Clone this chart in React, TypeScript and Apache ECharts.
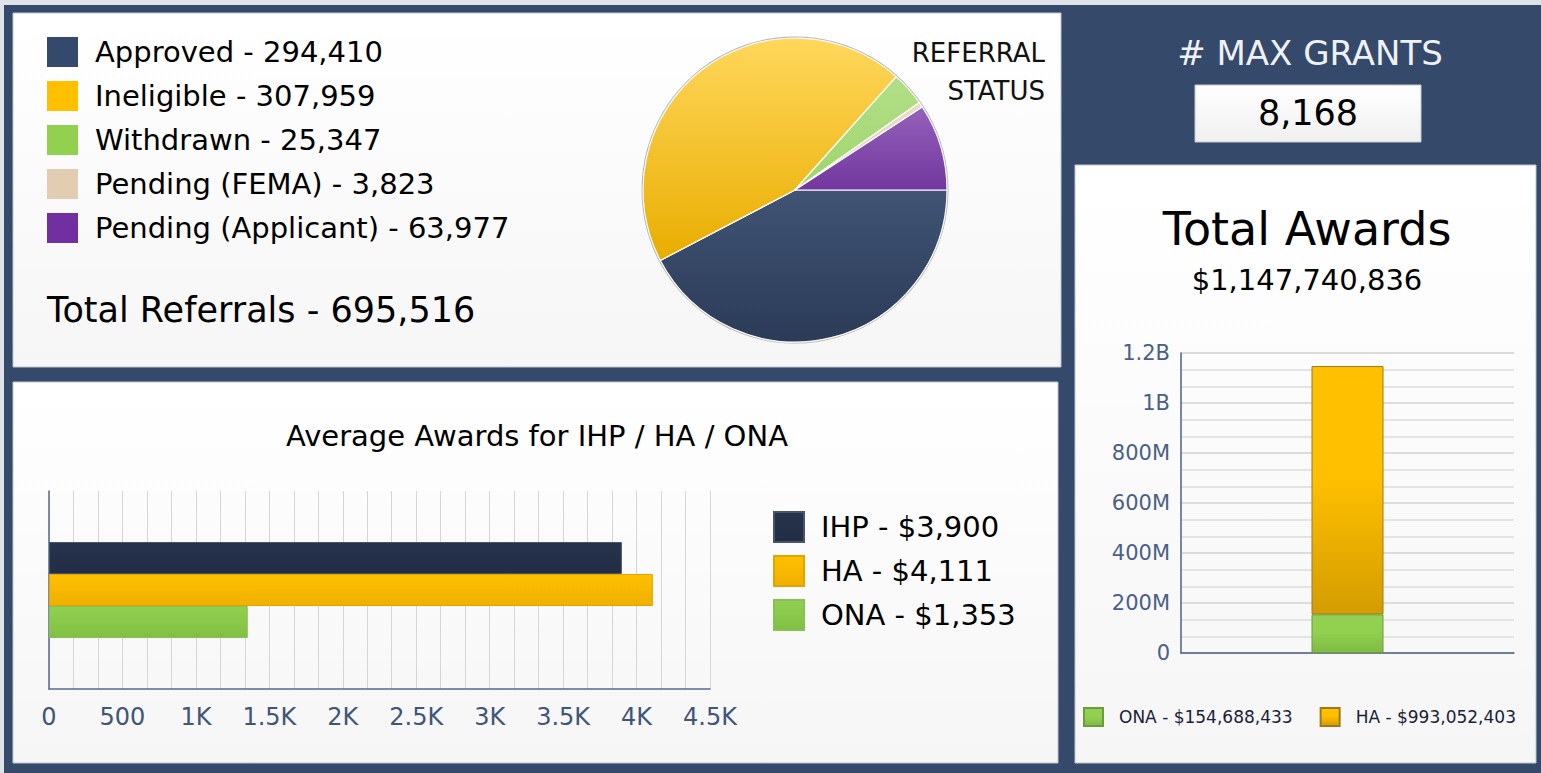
import React, { useEffect, useRef } from "react";
import * as echarts from "echarts";

// ---- Data ----
const statusNames = ["Approved", "Ineligible", "Withdrawn", "Pending (FEMA)", "Pending (Applicant)"];
const statusValues = [294410, 307959, 25347, 3823, 63977];
const statusColors = ["#34496b", "#ffc000", "#92d050", "#e3cdb2", "#7030a0"];
const pieTopColors = ["#415474", "#ffd75c", "#b2df88", "#ecdcc8", "#9462ba"];
const pieBottomColors = ["#2b3b58", "#e9ad00", "#9fd56c", "#e0ccb4", "#72379e"];

const avgCategories = ["IHP", "HA", "ONA"];
const avgValues = [3900, 4111, 1353];
const avgTopColors = ["#26334c", "#ffc000", "#92d050"];
const avgBottomColors = ["#222e45", "#efb000", "#82c043"];
const avgBorderColors = ["#47546c", "#e3a400", "#86c056"];

const totalCategories = ["ONA", "HA"];
const totalValues = [154688433, 993052403];
const totalTopColors = ["#92d050", "#ffc000"];
const totalBottomColors = ["#7ebc42", "#d39c00"];
const totalBorderColors = ["#6e9a40", "#9c7a1c"];

const maxGrants = 8168;

const FONT = '"DejaVu Sans", Verdana, sans-serif';
const fmt = (n: number) => n.toLocaleString("en-US");

export default function App() {
  const ref = useRef<HTMLDivElement>(null);

  useEffect(() => {
    if (!ref.current) return;
    const chart = echarts.init(ref.current, undefined, { renderer: "svg" });

    const totalReferrals = statusValues.reduce((a, b) => a + b, 0);
    const totalAwards = totalValues.reduce((a, b) => a + b, 0);

    const vgrad = (a: string, b: string, mid?: string) =>
      new echarts.graphic.LinearGradient(0, 0, 0, 1, mid
        ? [{ offset: 0, color: a }, { offset: 0.45, color: mid }, { offset: 1, color: b }]
        : [{ offset: 0, color: a }, { offset: 1, color: b }]);

    const panelFill = () => vgrad("#ffffff", "#f6f6f6");

    const avgNames = avgCategories.map((c, i) => `${c} - $${fmt(avgValues[i])}`);
    const totalNames = totalCategories.map((c, i) => `${c} - $${fmt(totalValues[i])}`);

    const option: any = {
      animation: false,
      backgroundColor: "#35496a",
      textStyle: { fontFamily: FONT },
      graphic: [
        { type: "rect", z: -10, shape: { x: 0, y: 0, width: 1541, height: 5 }, style: { fill: "#dfe3e9" } },
        { type: "rect", z: -10, shape: { x: 0, y: 0, width: 4, height: 773 }, style: { fill: "#dfe3e9" } },
        { type: "rect", z: -10, shape: { x: 13, y: 13, width: 1048, height: 354 }, style: { fill: panelFill(), stroke: "#bfc4cc", lineWidth: 1 } },
        { type: "rect", z: -10, shape: { x: 13, y: 382, width: 1045, height: 381 }, style: { fill: panelFill(), stroke: "#bfc4cc", lineWidth: 1 } },
        { type: "rect", z: -10, shape: { x: 1075, y: 165, width: 461, height: 598 }, style: { fill: panelFill(), stroke: "#bfc4cc", lineWidth: 1 } },
        { type: "rect", z: -10, shape: { x: 1195, y: 85, width: 226, height: 57 }, style: { fill: vgrad("#ffffff", "#f0f0f0"), stroke: "#c4c8ce", lineWidth: 1 } },
        { type: "circle", z: -5, shape: { cx: 795, cy: 190, r: 153.5 }, style: { fill: "#b4b4b4" } },
        { type: "text", z: 10, style: { text: "REFERRAL\nSTATUS", x: 1045, y: 34, align: "right", verticalAlign: "top", font: `26px ${FONT}`, lineHeight: 38, fill: "#111" } },
        { type: "text", z: 10, style: { text: `Total Referrals - ${fmt(totalReferrals)}`, x: 47, y: 310, verticalAlign: "middle", font: `35px ${FONT}`, fill: "#000" } },
        { type: "text", z: 10, style: { text: "Average Awards for IHP / HA / ONA", x: 537, y: 436, align: "center", verticalAlign: "middle", font: `29px ${FONT}`, fill: "#000" } },
        { type: "text", z: 10, style: { text: "# MAX GRANTS", x: 1310, y: 53, align: "center", verticalAlign: "middle", font: `34px ${FONT}`, fill: "#eef1f5" } },
        { type: "text", z: 10, style: { text: fmt(maxGrants), x: 1308, y: 113, align: "center", verticalAlign: "middle", font: `35px ${FONT}`, fill: "#000" } },
        { type: "text", z: 10, style: { text: "Total Awards", x: 1307, y: 229, align: "center", verticalAlign: "middle", font: `46px ${FONT}`, fill: "#000" } },
        { type: "text", z: 10, style: { text: `$${fmt(totalAwards)}`, x: 1307, y: 280, align: "center", verticalAlign: "middle", font: `29px ${FONT}`, fill: "#000" } },
      ],
      legend: [
        {
          orient: "vertical", left: 47, top: 37, padding: 0, itemWidth: 31, itemHeight: 30, itemGap: 14,
          icon: "rect", selectedMode: false,
          data: statusNames.map((n, i) => ({ name: n, itemStyle: { color: statusColors[i], borderWidth: 0 } })),
          formatter: (n: string) => `${n} - ${fmt(statusValues[statusNames.indexOf(n)])}`,
          textStyle: { fontSize: 29, fontFamily: FONT, color: "#000", padding: [0, 0, 0, 12] },
        },
        {
          orient: "vertical", left: 773, top: 511, padding: 0, itemWidth: 30, itemHeight: 30, itemGap: 12,
          icon: "rect", selectedMode: false,
          data: avgNames,
          textStyle: { fontSize: 29, fontFamily: FONT, color: "#000", padding: [0, 0, 0, 12] },
        },
        {
          orient: "horizontal", left: 1083, top: 707, padding: 0, itemWidth: 19, itemHeight: 18, itemGap: 27,
          icon: "rect", selectedMode: false,
          data: totalNames,
          textStyle: { fontSize: 17, fontFamily: FONT, color: "#1a2238", padding: [0, 0, 0, 11] },
        },
      ],
      grid: [
        { left: 49, top: 491, width: 661, height: 198 },
        { left: 1181, top: 353, width: 333, height: 300 },
      ],
      xAxis: [
        {
          type: "value", gridIndex: 0, min: 0, max: 4500, interval: 500,
          axisLine: { show: true, lineStyle: { color: "#55698a", width: 1.5 } },
          axisTick: { show: false },
          axisLabel: {
            color: "#3f5579", fontSize: 24, fontFamily: FONT, margin: 16,
            formatter: (v: number) => (v >= 1000 ? `${v / 1000}K` : `${v}`),
          },
          splitLine: { show: true, lineStyle: { color: "#d6d6d6", width: 1 } },
          minorTick: { show: false, splitNumber: 3 },
          minorSplitLine: { show: true, lineStyle: { color: "#d6d6d6", width: 1 } },
        },
        {
          type: "category", gridIndex: 1, data: ["Total Awards"],
          axisLine: { show: true, lineStyle: { color: "#4c6185", width: 1.5 } },
          axisTick: { show: false }, axisLabel: { show: false }, splitLine: { show: false },
        },
      ],
      yAxis: [
        {
          type: "category", gridIndex: 0, data: ["Average Awards"],
          axisLine: { show: true, lineStyle: { color: "#55698a", width: 1.5 } },
          axisTick: { show: false }, axisLabel: { show: false }, splitLine: { show: false },
        },
        {
          type: "value", gridIndex: 1, min: 0, max: 1.2e9, interval: 2e8,
          axisLine: { show: true, lineStyle: { color: "#4c6185", width: 1.5 } },
          axisTick: { show: false },
          axisLabel: {
            color: "#4a6088", fontSize: 21, fontFamily: FONT, margin: 11,
            formatter: (v: number) => (v >= 1e9 ? `${v / 1e9}B` : v >= 1e6 ? `${v / 1e6}M` : `${v}`),
          },
          splitLine: { show: true, lineStyle: { color: "#dcdcdc", width: 2 } },
          minorTick: { show: false, splitNumber: 3 },
          minorSplitLine: { show: true, lineStyle: { color: "#e4e4e4", width: 2 } },
        },
      ],
      series: [
        {
          type: "pie", center: [795, 190], radius: 152, startAngle: 0, clockwise: true,
          silent: true, label: { show: false }, labelLine: { show: false },
          itemStyle: { borderColor: "#ffffff", borderWidth: 1.2 },
          data: statusNames.map((n, i) => ({
            name: n, value: statusValues[i],
            itemStyle: { color: vgrad(pieTopColors[i], pieBottomColors[i]) },
          })),
        },
        ...avgCategories.map((c, i) => ({
          type: "bar", name: avgNames[i], xAxisIndex: 0, yAxisIndex: 0,
          barWidth: 32, barGap: "0%", silent: true,
          itemStyle: { color: vgrad(avgTopColors[i], avgBottomColors[i]), borderColor: avgBorderColors[i], borderWidth: 1 },
          data: [avgValues[i]],
        })),
        ...totalCategories.map((c, i) => ({
          type: "bar", name: totalNames[i], xAxisIndex: 1, yAxisIndex: 1, stack: "total",
          barWidth: 72, silent: true,
          itemStyle: { color: vgrad(totalTopColors[i], totalBottomColors[i], totalTopColors[i]), borderColor: totalBorderColors[i], borderWidth: 1 },
          data: [totalValues[i]],
        })),
      ],
    };

    chart.setOption(option);
    return () => chart.dispose();
  }, []);

  return (
    <div
      ref={ref}
      style={{ position: "fixed", left: 0, top: 0, width: 1541, height: 773 }}
    />
  );
}
